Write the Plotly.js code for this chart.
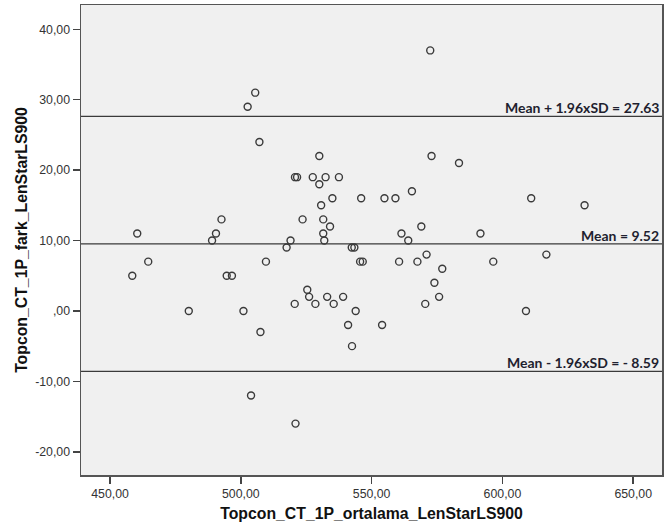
<!DOCTYPE html>
<html>
<head>
<meta charset="utf-8">
<script src="https://cdn.plot.ly/plotly-3.0.1.min.js"></script>
<style>html,body{margin:0;padding:0;background:#fff;}#chart{width:672px;height:528px;}</style>
</head>
<body>
<div id="chart"></div>
<script>
// Mean of the two methods (x) and difference (y)
const meanValues = [572.4, 505.5, 502.6, 507.1, 530.0, 572.9, 583.4, 520.7, 521.5, 527.5,
  532.4, 537.5, 530.0, 565.4, 535.0, 546.0, 554.9, 559.1, 611.0, 530.7,
  631.4, 492.6, 523.6, 531.5, 534.1, 569.0, 460.4, 490.5, 531.5, 561.4,
  591.6, 489.0, 519.0, 531.9, 564.0, 517.5, 542.4, 543.4, 571.0, 616.8,
  464.6, 509.6, 545.6, 546.6, 560.5, 567.5, 596.5, 577.0, 458.5, 494.6,
  496.6, 574.0, 525.4, 526.1, 533.0, 539.1, 575.8, 520.6, 528.5, 535.5,
  570.5, 480.1, 501.0, 543.9, 609.0, 541.0, 554.0, 507.5, 542.5, 503.9,
  520.9];
const diffValues = [37, 31, 29, 24, 22, 22, 21, 19, 19, 19,
  19, 19, 18, 17, 16, 16, 16, 16, 16, 15,
  15, 13, 13, 13, 12, 12, 11, 11, 11, 11,
  11, 10, 10, 10, 10, 9, 9, 9, 8, 8,
  7, 7, 7, 7, 7, 7, 7, 6, 5, 5,
  5, 4, 3, 2, 2, 2, 2, 1, 1, 1,
  1, 0, 0, 0, 0, -2, -2, -3, -5, -12,
  -16];
const refLevels = [27.63, 9.52, -8.59];
const refLabels = ["Mean + 1.96xSD = 27.63", "Mean = 9.52", "Mean - 1.96xSD = - 8.59"];
const xTickVals = [450, 500, 550, 600, 650];
const xTickText = ["450,00", "500,00", "550,00", "600,00", "650,00"];
const yTickVals = [40, 30, 20, 10, 0, -10, -20];
const yTickText = ["40,00", "30,00", "20,00", "10,00", ",00", "-10,00", "-20,00"];

const xRange = [438.9, 661.0];

const traces = [{
  type: 'scatter', mode: 'markers',
  x: meanValues, y: diffValues,
  marker: {symbol: 'circle-open', size: 7, color: '#3a3a3a', line: {width: 1.4, color: '#3a3a3a'}},
  hoverinfo: 'x+y', showlegend: false
}];

const shapes = refLevels.map(v => ({
  type: 'line', xref: 'paper', x0: 0, x1: 1, yref: 'y', y0: v, y1: v,
  line: {color: '#3a3a3a', width: 1.4}
}));

const annotations = refLevels.map((v, i) => ({
  xref: 'paper', x: 1, xanchor: 'right', xshift: -1,
  yref: 'y', y: v, yanchor: 'bottom', yshift: -2,
  text: '<b>' + refLabels[i] + '</b>', showarrow: false,
  font: {family: 'Lato, sans-serif', size: 14, color: '#1f1f2f'}
}));

const layout = {
  width: 672, height: 528,
  margin: {l: 81, r: 10, t: 5, b: 53},
  paper_bgcolor: '#ffffff', plot_bgcolor: '#f0f0f0',
  font: {family: 'Liberation Sans, Arial, sans-serif', color: '#333'},
  xaxis: {
    range: xRange, tickvals: xTickVals, ticktext: xTickText,
    ticks: 'outside', ticklen: 7, tickwidth: 1.5, tickcolor: '#444',
    showgrid: false, zeroline: false,
    showline: true, mirror: true, linecolor: '#555', linewidth: 1.5,
    tickfont: {size: 12.3, color: '#333'},
    title: {text: '<b>Topcon_CT_1P_ortalama_LenStarLS900</b>', font: {size: 15.8, color: '#111'}, standoff: 7}
  },
  yaxis: {
    range: [-23.3, 43.45], tickvals: yTickVals, ticktext: yTickText,
    ticks: 'outside', ticklen: 7, tickwidth: 1.5, tickcolor: '#444',
    showgrid: false, zeroline: false,
    showline: true, mirror: true, linecolor: '#555', linewidth: 1.5,
    tickfont: {size: 12.3, color: '#333'},
    title: {text: '<b>Topcon_CT_1P_fark_LenStarLS900</b>', font: {size: 15.8, color: '#111'}, standoff: 3}
  },
  shapes: shapes,
  annotations: annotations
};

Plotly.newPlot('chart', traces, layout, {displayModeBar: false, staticPlot: true});
</script>
</body>
</html>
